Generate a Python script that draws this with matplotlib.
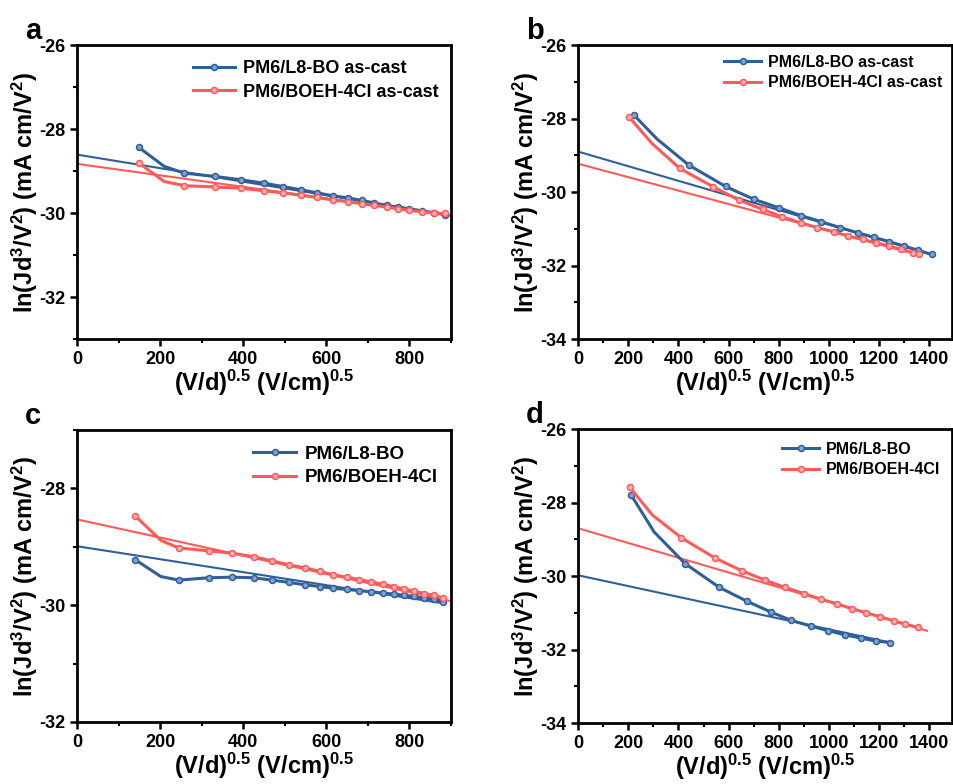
import numpy as np
import matplotlib
matplotlib.use("Agg")
import matplotlib.pyplot as plt
from matplotlib.ticker import MultipleLocator

plt.rcParams['font.family'] = ['Liberation Sans', 'DejaVu Sans']
plt.rcParams['font.weight'] = 'bold'
plt.rcParams['mathtext.fontset'] = 'custom'
plt.rcParams['mathtext.rm'] = 'Liberation Sans:bold'
plt.rcParams['mathtext.bf'] = 'Liberation Sans:bold'
plt.rcParams['mathtext.it'] = 'Liberation Sans:bold'
plt.rcParams['mathtext.default'] = 'rm'
plt.rcParams['axes.unicode_minus'] = False

BLUE = "#2f5f98"
RED = "#ff5a5a"

# ---- panel a (as-cast) ----
xa = [149, 210, 258, 333, 395, 450, 495, 540, 578, 615, 652, 685, 715, 745, 773, 800, 830, 858, 885]
ya_blue = [-28.44, -28.89, -29.05, -29.13, -29.21, -29.29, -29.37, -29.45, -29.52, -29.59,
           -29.64, -29.70, -29.76, -29.82, -29.86, -29.90, -29.95, -29.99, -30.04]
ya_red = [-28.81, -29.25, -29.35, -29.38, -29.41, -29.47, -29.52, -29.58, -29.63, -29.69,
          -29.73, -29.78, -29.82, -29.86, -29.90, -29.94, -29.97, -30.00, -30.01]
fit_a_blue = [-28.61, -0.00161]   # intercept, slope
fit_a_red = [-28.83, -0.001367]

# ---- panel b (as-cast) ----
xb_blue = [222, 315, 442, 588, 701, 801, 888, 970, 1045, 1114, 1178, 1240, 1298, 1353, 1409]
yb_blue = [-27.90, -28.56, -29.27, -29.85, -30.20, -30.43, -30.64, -30.81, -30.97, -31.11,
           -31.23, -31.35, -31.47, -31.58, -31.70]
xb_red = [205, 295, 406, 539, 641, 735, 814, 888, 954, 1018, 1077, 1134, 1187, 1240, 1287, 1333, 1360]
yb_red = [-27.97, -28.68, -29.36, -29.86, -30.22, -30.47, -30.68, -30.84, -30.97, -31.08,
          -31.20, -31.29, -31.38, -31.47, -31.56, -31.65, -31.68]
fit_b_blue = [-28.90, -0.00199]
fit_b_red = [-29.23, -0.00183]

# ---- panel c ----
xc = [140, 202, 245, 317, 374, 425, 469, 510, 548, 584, 617, 649, 679, 707, 736, 762, 788, 812, 836, 860, 882]
yc_blue = [-29.22, -29.51, -29.57, -29.53, -29.52, -29.53, -29.57, -29.61, -29.65, -29.68, -29.71,
           -29.73, -29.75, -29.77, -29.79, -29.81, -29.83, -29.85, -29.88, -29.90, -29.94]
yc_red = [-28.47, -28.89, -29.02, -29.07, -29.11, -29.17, -29.24, -29.31, -29.36, -29.42, -29.48,
          -29.52, -29.56, -29.60, -29.64, -29.68, -29.72, -29.76, -29.80, -29.83, -29.88]
fit_c_blue = [-28.99, -0.00111]
fit_c_red = [-28.53, -0.001556]

# ---- panel d ----
xd_blue = [212, 303, 426, 563, 674, 768, 850, 927, 997, 1064, 1127, 1187, 1244]
yd_blue = [-27.80, -28.80, -29.66, -30.31, -30.69, -30.98, -31.21, -31.36, -31.49, -31.60,
           -31.69, -31.77, -31.81]
xd_red = [206, 296, 412, 546, 653, 744, 824, 901, 968, 1033, 1093, 1147, 1204, 1258, 1304, 1355]
yd_red = [-27.58, -28.34, -28.96, -29.51, -29.86, -30.11, -30.31, -30.48, -30.63, -30.76,
          -30.89, -31.00, -31.11, -31.22, -31.31, -31.40]
fit_d_blue = [-29.98, -0.00147]
fit_d_red = [-28.70, -0.002006]


def panel(pos, letter, xb, yb, xr, yr, fb, fr, fit_end, labels, xlim, ylim, xmaj, leg_size, leg_anchor):
    ax = fig.add_axes(pos)
    xf_b = np.array([0, fit_end[0]])
    xf_r = np.array([0, fit_end[1]])
    ax.plot(xf_b, fb[0] + fb[1] * xf_b, color=BLUE, lw=1.5, zorder=2)
    ax.plot(xf_r, fr[0] + fr[1] * xf_r, color=RED, lw=1.5, zorder=2)
    mk = [i for i in range(len(xb)) if i != 1]
    ax.plot(xb, yb, color=BLUE, lw=2.2, marker='o', ms=4.3, mfc="#7fa3d0", mec=BLUE, mew=1.1,
            markevery=mk, label=labels[0], zorder=3)
    mk = [i for i in range(len(xr)) if i != 1]
    ax.plot(xr, yr, color=RED, lw=2.2, marker='o', ms=4.3, mfc="#ffb0b0", mec=RED, mew=1.1,
            markevery=mk, label=labels[1], zorder=3)
    ax.set_xlim(*xlim)
    ax.set_ylim(*ylim)
    ax.xaxis.set_major_locator(MultipleLocator(xmaj))
    ax.xaxis.set_minor_locator(MultipleLocator(xmaj / 2))
    ax.yaxis.set_major_locator(MultipleLocator(2))
    ax.yaxis.set_minor_locator(MultipleLocator(1))
    ax.tick_params(which='major', direction='out', length=5, width=1.8, labelsize=13)
    ax.tick_params(which='minor', direction='out', length=3, width=1.5)
    for s in ax.spines.values():
        s.set_linewidth(2)
    for t in ax.get_xticklabels() + ax.get_yticklabels():
        t.set_fontweight('bold')
    ax.set_xlabel("(V/d)$^{0.5}$ (V/cm)$^{0.5}$", fontsize=17, fontweight='bold', labelpad=0)
    ax.set_ylabel("ln(Jd$^3$/V$^2$) (mA cm/V$^2$)", fontsize=17, fontweight='bold', labelpad=-1)
    ax.legend(loc='upper right', bbox_to_anchor=leg_anchor, frameon=False,
              prop={'size': leg_size, 'weight': 'bold'}, handlelength=2.3,
              handletextpad=0.45, labelspacing=0.35, borderaxespad=0.2)
    ax.text(-0.14, 1.0, letter, transform=ax.transAxes, fontsize=21, fontweight='bold',
            ha='left', va='bottom')
    return ax


fig = plt.figure(figsize=(9.54, 7.84), dpi=100)

panel([0.0807, 0.5676, 0.392, 0.375], 'a', xa, ya_blue, xa, ya_red, fit_a_blue, fit_a_red,
      [900, 900], ["PM6/L8-BO as-cast", "PM6/BOEH-4Cl as-cast"], (0, 900), (-33, -26), 200, 13,
      (0.995, 0.985))
panel([0.6059, 0.5676, 0.392, 0.375], 'b', xb_blue, yb_blue, xb_red, yb_red, fit_b_blue, fit_b_red,
      [1409, 1360], ["PM6/L8-BO as-cast", "PM6/BOEH-4Cl as-cast"], (0, 1490), (-34, -26), 200, 11.5,
      (1.0, 1.0))
panel([0.0807, 0.0791, 0.392, 0.3724], 'c', xc, yc_blue, xc, yc_red, fit_c_blue, fit_c_red,
      [882, 900], ["PM6/L8-BO", "PM6/BOEH-4Cl"], (0, 900), (-32, -27), 200, 13.5,
      (0.995, 0.985))
panel([0.6059, 0.0778, 0.392, 0.375], 'd', xd_blue, yd_blue, xd_red, yd_red, fit_d_blue, fit_d_red,
      [1244, 1391], ["PM6/L8-BO", "PM6/BOEH-4Cl"], (0, 1490), (-34, -26), 200, 11.5,
      (0.995, 0.99))

fig.savefig("out.png", dpi=100)
